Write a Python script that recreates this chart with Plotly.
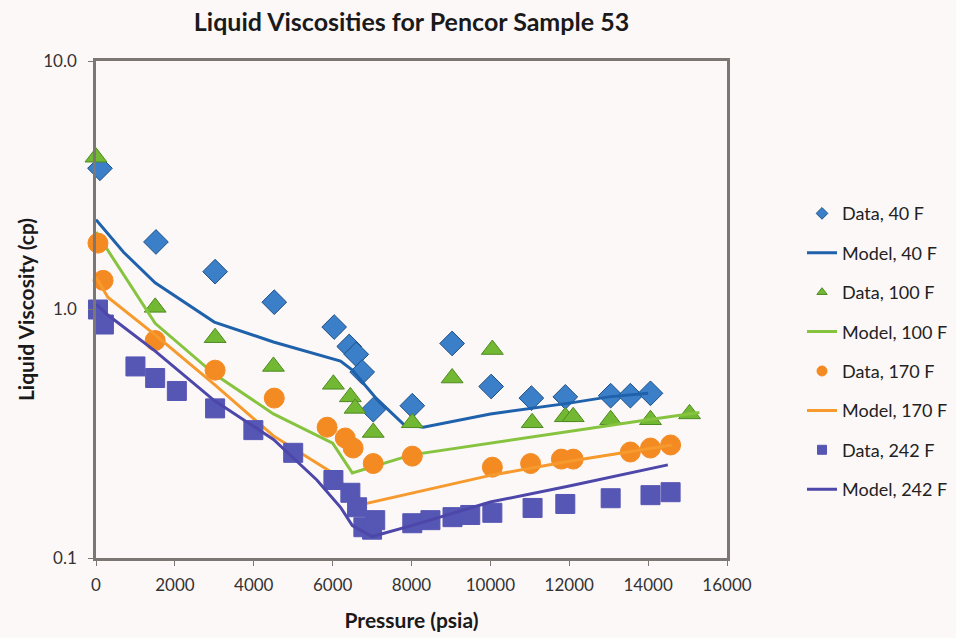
import plotly.graph_objects as go

# ---- data ----
p_data_40 = [100, 1520, 3020, 4520, 6040, 6420, 6600, 6750, 7030, 8020, 9030, 10020, 11040, 11900, 13050, 13550, 14060]
v_data_40 = [3.7, 1.87, 1.42, 1.07, 0.85, 0.71, 0.66, 0.56, 0.395, 0.41, 0.73, 0.49, 0.44, 0.445, 0.45, 0.45, 0.46]

p_model_40 = [0, 700, 1500, 3000, 4500, 6200, 6500, 7100, 7800, 8300, 10000, 12000, 13000, 14000]
v_model_40 = [2.3, 1.7, 1.28, 0.89, 0.74, 0.62, 0.57, 0.44, 0.345, 0.336, 0.38, 0.42, 0.445, 0.46]

p_data_100 = [0, 1500, 3020, 4500, 6020, 6450, 6570, 7030, 8020, 9030, 10050, 11060, 11900, 12100, 13050, 14060, 15050]
v_data_100 = [4.1, 1.02, 0.77, 0.59, 0.50, 0.445, 0.40, 0.32, 0.35, 0.53, 0.69, 0.35, 0.37, 0.37, 0.36, 0.36, 0.38]

p_model_100 = [0, 1500, 3000, 4500, 6000, 6500, 8000, 10000, 12000, 14000, 15300]
v_model_100 = [2.05, 0.88, 0.55, 0.38, 0.29, 0.22, 0.26, 0.29, 0.325, 0.36, 0.385]

p_data_170 = [50, 180, 1500, 3020, 4520, 5860, 6320, 6520, 7030, 8020, 10050, 11020, 11800, 12100, 13550, 14060, 14570]
v_data_170 = [1.85, 1.31, 0.75, 0.57, 0.44, 0.336, 0.304, 0.277, 0.24, 0.257, 0.232, 0.24, 0.25, 0.25, 0.267, 0.277, 0.285]

p_model_170 = [0, 300, 1500, 3000, 4500, 6000, 6500, 6800, 10000, 12000, 14600]
v_model_170 = [1.35, 1.12, 0.79, 0.50, 0.31, 0.22, 0.18, 0.165, 0.215, 0.245, 0.285]

p_data_242 = [50, 200, 1000, 1500, 2050, 3020, 3990, 5000, 6020, 6450, 6620, 6780, 7000, 7080, 8020, 8480, 9040, 9490, 10050, 11070, 11900, 13050, 14060, 14570]
v_data_242 = [1.0, 0.87, 0.59, 0.53, 0.47, 0.40, 0.327, 0.265, 0.206, 0.183, 0.16, 0.133, 0.13, 0.142, 0.138, 0.142, 0.146, 0.149, 0.152, 0.159, 0.165, 0.174, 0.179, 0.184]

p_model_242 = [0, 300, 1500, 3000, 4500, 5600, 6200, 6500, 7000, 8000, 10000, 12000, 14500]
v_model_242 = [1.05, 0.95, 0.68, 0.43, 0.30, 0.206, 0.16, 0.135, 0.122, 0.135, 0.168, 0.195, 0.237]

names_data = ["Data, 40 F", "Data, 100 F", "Data, 170 F", "Data, 242 F"]
names_model = ["Model, 40 F", "Model, 100 F", "Model, 170 F", "Model, 242 F"]

x_ticks = [0, 2000, 4000, 6000, 8000, 10000, 12000, 14000, 16000]
x_tick_text = ["0", "2000", "4000", "6000", "8000", "10000", "12000", "14000", "16000"]
y_ticks = [0.1, 1, 10]
y_tick_text = ["0.1", "1.0", "10.0"]

# ---- styles ----
mk_fill = ["#3b7fc8", "#72b832", "#f48a22", "#5656b4"]
mk_line = ["#1d4f86", "#4f8a22", "#f48a22", "#5656b4"]
ln_col = ["#1f62ab", "#86c440", "#f69a2e", "#4d47aa"]
symbols = ["diamond", "triangle-up", "circle", "square"]
sizes = [19, 19, 20, 19]
leg_sizes = [9, 9, 10, 9]

series = [
    (p_data_40, v_data_40, p_model_40, v_model_40),
    (p_data_100, v_data_100, p_model_100, v_model_100),
    (p_data_170, v_data_170, p_model_170, v_model_170),
    (p_data_242, v_data_242, p_model_242, v_model_242),
]

fig = go.Figure()
k = 0
for i, (pd_, vd, pm, vm) in enumerate(series):
    fig.add_trace(go.Scatter(x=pd_, y=vd, mode="markers", showlegend=False,
                             cliponaxis=False,
                             marker=dict(symbol=symbols[i], size=sizes[i], color=mk_fill[i],
                                         line=dict(color=mk_line[i], width=1))))
    fig.add_trace(go.Scatter(x=[None], y=[None], mode="markers", name=names_data[i],
                             legendgroup="g%d" % k,
                             marker=dict(symbol=symbols[i], size=leg_sizes[i], color=mk_fill[i],
                                         line=dict(color=mk_line[i], width=1))))
    k += 1
    fig.add_trace(go.Scatter(x=pm, y=vm, mode="lines", name=names_model[i],
                             legendgroup="g%d" % k,
                             line=dict(color=ln_col[i], width=3)))
    k += 1

bg = "#fdf8f8"
axis_col = "#7d7773"
fig.update_layout(
    width=956, height=638,
    paper_bgcolor=bg, plot_bgcolor=bg,
    margin=dict(l=96, r=229, t=61, b=80, autoexpand=False),
    font=dict(family="Lato, Carlito, sans-serif", color="#222222"),
    title=dict(text="<b>Liquid Viscosities for Pencor Sample 53</b>",
               x=(193 + 630) / 2 / 956, xanchor="center", y=1 - 22 / 638, yanchor="middle",
               font=dict(size=25, color="#1a1a1a")),
    showlegend=True,
    legend=dict(xref="container", x=802 / 956, xanchor="left", y=0.73, yanchor="top",
                bgcolor="rgba(0,0,0,0)", tracegroupgap=13,
                font=dict(size=18, color="#222222")),
    xaxis=dict(range=[0, 16000], tickvals=x_ticks, ticktext=x_tick_text,
               showgrid=False, zeroline=False,
               showline=True, mirror=True, linecolor=axis_col, linewidth=2.5,
               ticks="outside", ticklen=5, tickcolor=axis_col, ticklabelstandoff=5,
               tickfont=dict(size=17, color="#333333"),
               title=dict(text="<b>Pressure (psia)</b>", font=dict(size=21, color="#1a1a1a"),
                          standoff=20)),
    yaxis=dict(type="log", range=[-1, 1], tickvals=y_ticks, ticktext=y_tick_text,
               showgrid=False, zeroline=False,
               showline=True, mirror=True, linecolor=axis_col, linewidth=2.5,
               ticks="outside", ticklen=5, tickcolor=axis_col, ticklabelstandoff=8,
               tickfont=dict(size=17, color="#333333"),
               title=dict(text="<b>Liquid Viscosity (cp)</b>", font=dict(size=21, color="#1a1a1a"),
                          standoff=3)),
)

fig.write_html("out.html")
